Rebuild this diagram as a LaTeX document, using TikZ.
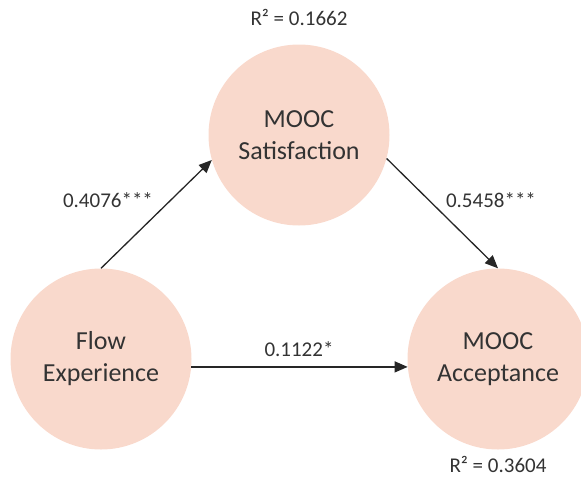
\documentclass[tikz,border=0pt]{standalone}
\usepackage{fontspec}
\setmainfont{Carlito}
\usetikzlibrary{arrows.meta}
\definecolor{circfill}{HTML}{F9D9CC}
\definecolor{txt}{HTML}{333333}
\definecolor{arr}{HTML}{262626}
\tikzset{
  construct/.style={circle, fill=circfill, minimum size=181pt, inner sep=0pt, align=center, text=txt, font=\fontsize{26}{32}\selectfont},
  lbl/.style={text=txt, font=\fontsize{21}{25}\selectfont, inner sep=0pt, anchor=base},
  path/.style={draw=arr, line width=1.3pt, -{Triangle[length=13pt,width=11pt]}}
}
\begin{document}
\begin{tikzpicture}[x=1pt,y=-1pt]
\useasboundingbox (0,0) rectangle (581,477);
\node[construct] (sat) at (299,135) {MOOC\\Satisfaction};
\node[construct] (flow) at (101,359) {Flow\\Experience};
\node[construct] (acc) at (498,359) {MOOC\\Acceptance};
\node[lbl] (r1) at (299,25) {R² = 0.1662};
\node[lbl] (r2) at (498,472) {R² = 0.3604};
\draw[path] (flow.90) -- (sat.196);
\draw[path] (sat.-15) -- (acc.90);
\draw[path] (flow.-5) -- (acc.185);
\node[lbl] (l1) at (108,207) {0.4076***};
\node[lbl] (l2) at (491,207) {0.5458***};
\node[lbl] (l3) at (299,356) {0.1122*};
\end{tikzpicture}
\end{document}
